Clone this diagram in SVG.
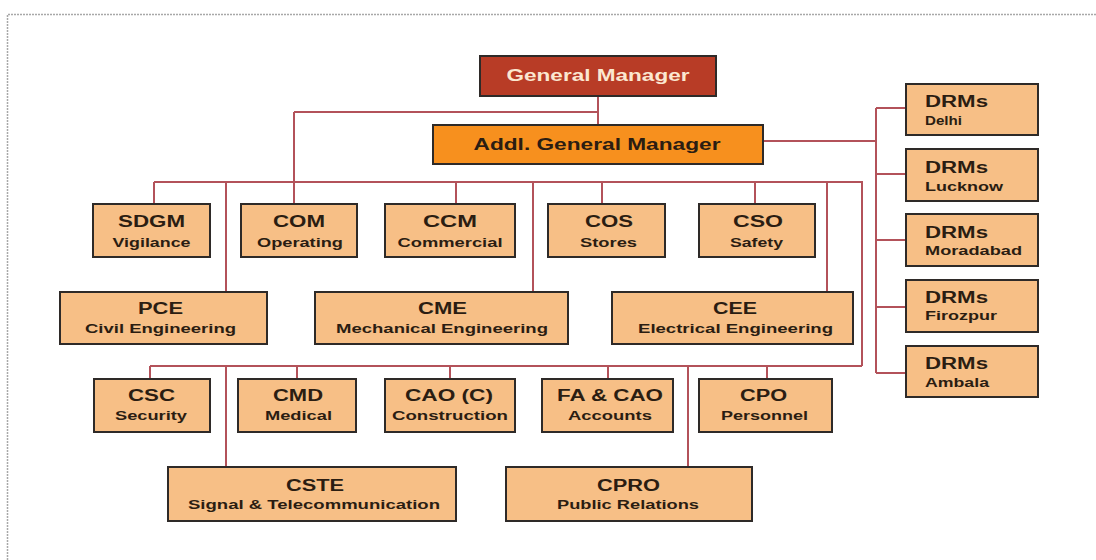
<svg xmlns="http://www.w3.org/2000/svg" width="1096" height="560" viewBox="0 0 1096 560">
<style>
.bg{fill:#ffffff}
.frame{stroke:#a8a8a8;stroke-width:1.5;stroke-dasharray:2 1;fill:none}
.box{fill:#f7bf86;stroke:#2e2a28;stroke-width:2}
.gm{fill:#b83c26;stroke:#2e2a28;stroke-width:2}
.agm{fill:#f7901e;stroke:#2e2a28;stroke-width:2}
.t{font-family:"Liberation Sans",Arial,sans-serif;font-weight:bold;fill:#2b1d12}
.ti{font-size:16px;text-anchor:middle}
.su{font-size:12.5px;text-anchor:middle}
.dt{font-size:16px}
.ds{font-size:12.5px}
.w{fill:#fbe7d0}
.c{stroke:#b3525a;stroke-width:2;fill:none}
</style>
<rect class="bg" x="0" y="0" width="1096" height="560"/>
<path class="frame" d="M7.5,560 V14.5 H1096"/>
<g id="connectors">
<path class="c" d="M598,96 V125 M294,112 H598 M294,112 V204"/>
<path class="c" d="M763,141 H876 M876,108 V373 M876,108 H906 M876,174 H906 M876,240 H906 M876,307 H906 M876,373 H906"/>
<path class="c" d="M154,182 H862 V366 M154,182 V204 M456,182 V204 M602,182 V204 M755,182 V204 M226,182 V292 M533,182 V292 M827,182 V292"/>
<path class="c" d="M150,366 H862 M150,366 V379 M297,366 V379 M450,366 V379 M608,366 V379 M767,366 V379 M226,366 V467 M688,366 V467"/>
</g>
<g id="gm"><rect class="gm" x="480" y="56" width="236" height="40"/><text class="t w" x="598" y="81" font-size="16.5" text-anchor="middle" textLength="183" lengthAdjust="spacingAndGlyphs">General Manager</text></g>
<g id="agm"><rect class="agm" x="433" y="125" width="330" height="39"/><text class="t" x="597" y="150" font-size="17" text-anchor="middle" textLength="247" lengthAdjust="spacingAndGlyphs">Addl. General Manager</text></g>

<g id="sdgm"><rect class="box" x="93" y="204" width="117" height="53"/><text class="t ti" x="151.5" y="227" textLength="67" lengthAdjust="spacingAndGlyphs">SDGM</text><text class="t su" x="151.5" y="247" textLength="78" lengthAdjust="spacingAndGlyphs">Vigilance</text></g>
<g id="com"><rect class="box" x="241" y="204" width="116" height="53"/><text class="t ti" x="299" y="227" textLength="52" lengthAdjust="spacingAndGlyphs">COM</text><text class="t su" x="300" y="247" textLength="86" lengthAdjust="spacingAndGlyphs">Operating</text></g>
<g id="ccm"><rect class="box" x="385" y="204" width="130" height="53"/><text class="t ti" x="450" y="227" textLength="54" lengthAdjust="spacingAndGlyphs">CCM</text><text class="t su" x="450" y="247" textLength="105" lengthAdjust="spacingAndGlyphs">Commercial</text></g>
<g id="cos"><rect class="box" x="548" y="204" width="117" height="53"/><text class="t ti" x="609" y="227" textLength="48" lengthAdjust="spacingAndGlyphs">COS</text><text class="t su" x="608.5" y="247" textLength="57" lengthAdjust="spacingAndGlyphs">Stores</text></g>
<g id="cso"><rect class="box" x="699" y="204" width="116" height="53"/><text class="t ti" x="758" y="227" textLength="50" lengthAdjust="spacingAndGlyphs">CSO</text><text class="t su" x="756.5" y="247" textLength="53" lengthAdjust="spacingAndGlyphs">Safety</text></g>

<g id="pce"><rect class="box" x="60" y="292" width="207" height="52"/><text class="t ti" x="160.5" y="314" textLength="45" lengthAdjust="spacingAndGlyphs">PCE</text><text class="t su" x="160.5" y="333" textLength="151" lengthAdjust="spacingAndGlyphs">Civil Engineering</text></g>
<g id="cme"><rect class="box" x="315" y="292" width="253" height="52"/><text class="t ti" x="442.5" y="314" textLength="49" lengthAdjust="spacingAndGlyphs">CME</text><text class="t su" x="442" y="333" textLength="212" lengthAdjust="spacingAndGlyphs">Mechanical Engineering</text></g>
<g id="cee"><rect class="box" x="612" y="292" width="241" height="52"/><text class="t ti" x="735" y="314" textLength="44" lengthAdjust="spacingAndGlyphs">CEE</text><text class="t su" x="735.5" y="333" textLength="195" lengthAdjust="spacingAndGlyphs">Electrical Engineering</text></g>

<g id="csc"><rect class="box" x="94" y="379" width="116" height="53"/><text class="t ti" x="151.5" y="401" textLength="47" lengthAdjust="spacingAndGlyphs">CSC</text><text class="t su" x="151" y="420" textLength="72" lengthAdjust="spacingAndGlyphs">Security</text></g>
<g id="cmd"><rect class="box" x="238" y="379" width="118" height="53"/><text class="t ti" x="298" y="401" textLength="50" lengthAdjust="spacingAndGlyphs">CMD</text><text class="t su" x="298.5" y="420" textLength="67" lengthAdjust="spacingAndGlyphs">Medical</text></g>
<g id="cao"><rect class="box" x="385" y="379" width="130" height="53"/><text class="t ti" x="449" y="401" textLength="88" lengthAdjust="spacingAndGlyphs">CAO (C)</text><text class="t su" x="450" y="420" textLength="116" lengthAdjust="spacingAndGlyphs">Construction</text></g>
<g id="fa"><rect class="box" x="542" y="379" width="131" height="53"/><text class="t ti" x="610" y="401" textLength="106" lengthAdjust="spacingAndGlyphs">FA &amp; CAO</text><text class="t su" x="610" y="420" textLength="84" lengthAdjust="spacingAndGlyphs">Accounts</text></g>
<g id="cpo"><rect class="box" x="699" y="379" width="133" height="53"/><text class="t ti" x="763.5" y="401" textLength="47" lengthAdjust="spacingAndGlyphs">CPO</text><text class="t su" x="764.5" y="420" textLength="87" lengthAdjust="spacingAndGlyphs">Personnel</text></g>

<g id="cste"><rect class="box" x="168" y="467" width="288" height="54"/><text class="t ti" x="315" y="491" textLength="58" lengthAdjust="spacingAndGlyphs">CSTE</text><text class="t su" x="314" y="509" textLength="252" lengthAdjust="spacingAndGlyphs">Signal &amp; Telecommunication</text></g>
<g id="cpro"><rect class="box" x="506" y="467" width="246" height="54"/><text class="t ti" x="628.5" y="491" textLength="63" lengthAdjust="spacingAndGlyphs">CPRO</text><text class="t su" x="628" y="509" textLength="142" lengthAdjust="spacingAndGlyphs">Public Relations</text></g>

<g id="drm-delhi"><rect class="box" x="906" y="84" width="132" height="51"/><text class="t dt" x="925" y="107" textLength="63" lengthAdjust="spacingAndGlyphs">DRMs</text><text class="t ds" x="925" y="125" textLength="37" lengthAdjust="spacingAndGlyphs">Delhi</text></g>
<g id="drm-lucknow"><rect class="box" x="906" y="149" width="132" height="52"/><text class="t dt" x="925" y="173" textLength="63" lengthAdjust="spacingAndGlyphs">DRMs</text><text class="t ds" x="925" y="191" textLength="78" lengthAdjust="spacingAndGlyphs">Lucknow</text></g>
<g id="drm-moradabad"><rect class="box" x="906" y="214" width="132" height="52"/><text class="t dt" x="925" y="238" textLength="63" lengthAdjust="spacingAndGlyphs">DRMs</text><text class="t ds" x="925" y="255" textLength="97" lengthAdjust="spacingAndGlyphs">Moradabad</text></g>
<g id="drm-firozpur"><rect class="box" x="906" y="280" width="132" height="52"/><text class="t dt" x="925" y="303" textLength="63" lengthAdjust="spacingAndGlyphs">DRMs</text><text class="t ds" x="925" y="320" textLength="72" lengthAdjust="spacingAndGlyphs">Firozpur</text></g>
<g id="drm-ambala"><rect class="box" x="906" y="346" width="132" height="51"/><text class="t dt" x="925" y="369" textLength="63" lengthAdjust="spacingAndGlyphs">DRMs</text><text class="t ds" x="925" y="387" textLength="64" lengthAdjust="spacingAndGlyphs">Ambala</text></g>
</svg>
